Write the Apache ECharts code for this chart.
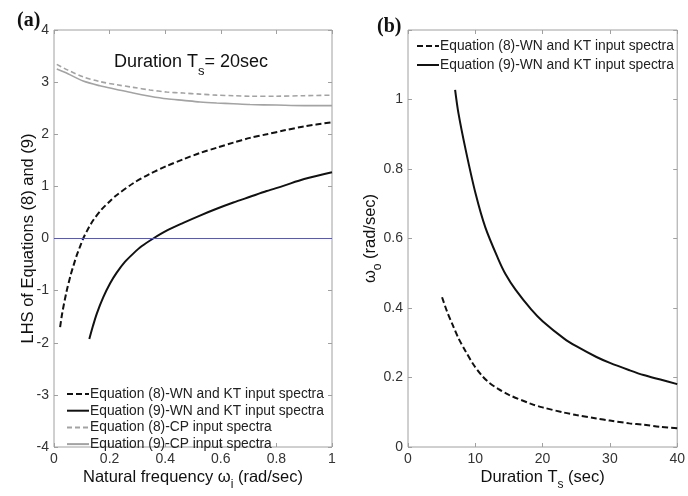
<!DOCTYPE html>
<html>
<head>
<meta charset="utf-8">
<script src="https://cdn.jsdelivr.net/npm/echarts@6/dist/echarts.min.js"></script>
<style>
  html, body { margin: 0; padding: 0; background: #fff; }
  #chart { width: 688px; height: 496px; }
</style>
</head>
<body>
<div id="chart"></div>
<script>
// Panel (a): LHS of Equations (8) and (9) versus natural frequency, Ts = 20 s
const nameEq8WN = 'Equation (8)-WN and KT input spectra';
const nameEq9WN = 'Equation (9)-WN and KT input spectra';
const nameEq8CP = 'Equation (8)-CP input spectra';
const nameEq9CP = 'Equation (9)-CP input spectra';

const aXTicks = [0, 0.2, 0.4, 0.6, 0.8, 1];
const aYTicks = [-4, -3, -2, -1, 0, 1, 2, 3, 4];
const zeroLevel = 0;

const eq8WN = [[0.022,-1.70],[0.03,-1.42],[0.045,-1.02],[0.06,-0.70],[0.07,-0.52],[0.082,-0.32],
  [0.094,-0.15],[0.105,0.0],[0.12,0.16],[0.141,0.35],[0.17,0.55],[0.2,0.71],[0.225,0.83],[0.285,1.06],
  [0.345,1.24],[0.405,1.39],[0.465,1.52],[0.525,1.64],[0.585,1.74],[0.645,1.84],[0.705,1.93],
  [0.765,2.00],[0.825,2.07],[0.9,2.15],[1,2.23]];
const eq9WN = [[0.127,-1.93],[0.14,-1.68],[0.154,-1.44],[0.177,-1.13],[0.202,-0.86],[0.225,-0.66],
  [0.255,-0.45],[0.285,-0.29],[0.315,-0.15],[0.357,0.0],[0.405,0.15],[0.465,0.30],[0.525,0.44],
  [0.585,0.57],[0.645,0.69],[0.705,0.80],[0.765,0.91],[0.825,1.01],[0.9,1.14],[1,1.27]];
const eq8CP = [[0.01,3.34],[0.05,3.23],[0.105,3.10],[0.165,3.01],[0.225,2.95],[0.285,2.90],[0.345,2.85],
  [0.405,2.81],[0.465,2.79],[0.525,2.77],[0.585,2.75],[0.645,2.74],[0.705,2.73],[0.8,2.73],[0.9,2.74],[1,2.75]];
const eq9CP = [[0.01,3.25],[0.05,3.16],[0.105,3.02],[0.165,2.93],[0.225,2.86],[0.285,2.79],[0.345,2.73],
  [0.405,2.68],[0.465,2.65],[0.525,2.62],[0.585,2.60],[0.645,2.585],[0.705,2.57],[0.8,2.56],[0.9,2.55],[1,2.55]];

// Panel (b): omega_o versus duration Ts
const bXTicks = [0, 10, 20, 30, 40];
const bYTicks = [0, 0.2, 0.4, 0.6, 0.8, 1];
const bYMax = 1.2;

const omegaEq8 = [[5.06,0.431],[5.8,0.39],[6.62,0.352],[7.5,0.313],[8.57,0.275],[9.7,0.238],[11,0.205],
  [12,0.186],[13.4,0.167],[15,0.150],[18.3,0.124],[20,0.114],[23.2,0.099],[25,0.092],[28,0.082],
  [30,0.076],[32.9,0.068],[35,0.064],[37.5,0.058],[40,0.054]];
const omegaEq9 = [[7.0,1.028],[7.5,0.96],[8.57,0.855],[10.03,0.73],[11.49,0.632],[13.43,0.54],[14.5,0.497],
  [16,0.452],[18.3,0.396],[20,0.362],[23.2,0.312],[25,0.29],[28,0.259],[30,0.242],[32.9,0.221],[35,0.207],
  [37.5,0.194],[40,0.181]];

const FONT = '"Liberation Sans", Arial, sans-serif';
const BOX = '#a0a0a0';
const TICK_COLOR = '#333';

function tickFormatter(ticks) {
  return v => ticks.some(t => Math.abs(t - v) < 1e-9) ? String(Math.round(v * 10) / 10) : '';
}

function mainAxis(ticks, max, extra) {
  return Object.assign({
    type: 'value',
    min: ticks[0],
    max: max,
    interval: ticks[1] - ticks[0],
    axisLine: { show: false, onZero: false },
    axisTick: { show: true, inside: true, length: 4, lineStyle: { color: BOX } },
    splitLine: { show: false },
    axisLabel: { color: TICK_COLOR, fontSize: 14, fontFamily: FONT, margin: 5, formatter: tickFormatter(ticks) },
    nameMoveOverlap: false,
    nameTextStyle: { color: '#111', fontSize: 16.5, fontFamily: FONT }
  }, extra);
}

function mirrorAxis(ticks, max, extra) {
  return Object.assign({
    type: 'value',
    min: ticks[0],
    max: max,
    interval: ticks[1] - ticks[0],
    axisLine: { show: false, onZero: false },
    axisTick: { show: true, inside: true, length: 4, lineStyle: { color: BOX } },
    splitLine: { show: false },
    axisLabel: { show: false }
  }, extra);
}

const subRich = {
  m: { fontSize: 16.5, fontFamily: FONT, color: '#111' },
  s: { fontSize: 12, fontFamily: FONT, color: '#111', padding: [15, 0, 0, 0] }
};

const blackDash = { color: '#111', width: 2, type: [6, 3] };
const blackSolid = { color: '#111', width: 2 };
const greyDash = { color: '#a3a3a3', width: 1.6, type: [5, 3] };
const greySolid = { color: '#a3a3a3', width: 1.6 };
const zeroColor = '#5050f5';

function line(name, data, style, xi, yi, extra) {
  return Object.assign({
    name: name, type: 'line', data: data, xAxisIndex: xi, yAxisIndex: yi,
    showSymbol: false, symbol: 'none', smooth: 0.3, lineStyle: style,
    itemStyle: { color: style.color }, silent: true, animation: false, z: 3
  }, extra || {});
}

const legendText = { fontSize: 13.8, lineHeight: 14, fontFamily: FONT, color: '#222', padding: [0, 0, 0, -4] };

const chart = echarts.init(document.getElementById('chart'), null, { renderer: 'canvas' });

chart.setOption({
  animation: false,
  backgroundColor: '#fff',
  grid: [
    { left: 54, right: 356, top: 30, bottom: 41, show: true, borderColor: BOX, borderWidth: 1, backgroundColor: 'transparent' },
    { left: 408, right: 6, top: 30, bottom: 40, show: true, borderColor: BOX, borderWidth: 1, backgroundColor: 'transparent' }
  ],
  xAxis: [
    mainAxis(aXTicks, aXTicks[aXTicks.length - 1], {
      gridIndex: 0, position: 'bottom',
      name: '{m|Natural frequency ω}{s|i}{m| (rad/sec)}', nameLocation: 'middle', nameGap: 17,
      nameTextStyle: { rich: subRich }
    }),
    mirrorAxis(aXTicks, aXTicks[aXTicks.length - 1], { gridIndex: 0, position: 'top' }),
    mainAxis(bXTicks, bXTicks[bXTicks.length - 1], {
      gridIndex: 1, position: 'bottom',
      name: '{m|Duration T}{s|s}{m| (sec)}', nameLocation: 'middle', nameGap: 17,
      nameTextStyle: { rich: subRich }
    }),
    mirrorAxis(bXTicks, bXTicks[bXTicks.length - 1], { gridIndex: 1, position: 'top' })
  ],
  yAxis: [
    mainAxis(aYTicks, aYTicks[aYTicks.length - 1], {
      gridIndex: 0, position: 'left',
      name: 'LHS of Equations (8) and (9)', nameLocation: 'middle', nameGap: 17, nameRotate: 90
    }),
    mirrorAxis(aYTicks, aYTicks[aYTicks.length - 1], { gridIndex: 0, position: 'right' }),
    mainAxis(bYTicks, bYMax, {
      gridIndex: 1, position: 'left',
      name: '{m|ω}{s|o}{m| (rad/sec)}', nameLocation: 'middle', nameGap: 24, nameRotate: 90,
      nameTextStyle: { rich: subRich }
    }),
    mirrorAxis(bYTicks, bYMax, { gridIndex: 1, position: 'right' })
  ],
  legend: [
    {
      data: [nameEq8WN, nameEq9WN, nameEq8CP, nameEq9CP],
      orient: 'vertical', left: 61, top: 382, itemWidth: 22, itemHeight: 14, itemGap: 2.7,
      selectedMode: false, itemStyle: { opacity: 0 },
      textStyle: legendText
    },
    {
      data: [nameEq8WN, nameEq9WN],
      orient: 'vertical', left: 411, top: 34, itemWidth: 22, itemHeight: 14, itemGap: 5,
      selectedMode: false, itemStyle: { opacity: 0 },
      textStyle: legendText
    }
  ],
  title: [
    {
      text: '{m|Duration T}{s|s}{m|= 20sec}',
      left: 109, top: 42,
      textStyle: {
        rich: {
          m: { fontSize: 18, fontFamily: FONT, fontWeight: 'normal', color: '#111' },
          s: { fontSize: 13, fontFamily: FONT, fontWeight: 'normal', color: '#111', padding: [18, 0, 0, 0] }
        }
      }
    },
    { text: '(a)', left: 12, top: 6, textStyle: { fontFamily: '"Liberation Serif", "Times New Roman", serif', fontWeight: 'bold', fontSize: 20, color: '#111' } },
    { text: '(b)', left: 372, top: 12, textStyle: { fontFamily: '"Liberation Serif", "Times New Roman", serif', fontWeight: 'bold', fontSize: 20, color: '#111' } }
  ],
  series: [
    {
      name: 'zero', type: 'line', xAxisIndex: 0, yAxisIndex: 0,
      data: [[aXTicks[0], zeroLevel], [aXTicks[aXTicks.length - 1], zeroLevel]],
      showSymbol: false, symbol: 'none',
      lineStyle: { color: zeroColor, width: 1, opacity: 1 },
      itemStyle: { color: zeroColor },
      emphasis: { disabled: true }, silent: true, animation: false, z: 5
    },
    line(nameEq8WN, eq8WN, blackDash, 0, 0),
    line(nameEq9WN, eq9WN, blackSolid, 0, 0),
    line(nameEq8CP, eq8CP, greyDash, 0, 0),
    line(nameEq9CP, eq9CP, greySolid, 0, 0),
    line(nameEq8WN, omegaEq8, blackDash, 2, 2),
    line(nameEq9WN, omegaEq9, blackSolid, 2, 2)
  ]
});
</script>
</body>
</html>
